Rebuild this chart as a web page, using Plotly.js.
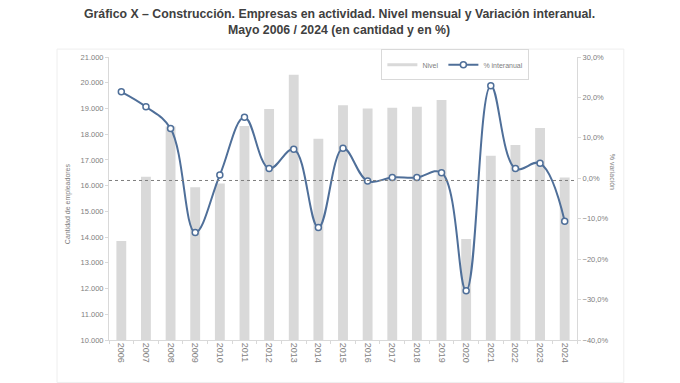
<!DOCTYPE html>
<html><head><meta charset="utf-8">
<script src="https://cdn.plot.ly/plotly-3.0.1.min.js"></script>
<style>html,body{margin:0;padding:0;background:#fff}#chart{width:680px;height:383px}</style>
</head><body><div id="chart"></div>
<script>
const years = ['2006','2007','2008','2009','2010','2011','2012','2013','2014','2015','2016','2017','2018','2019','2020','2021','2022','2023','2024'];
const nivel = [13850,16350,18300,15940,16080,18320,18980,20310,17820,19120,19000,19030,19070,19330,13930,17160,17580,18240,16320];
const interanual = [21.4,17.7,12.3,-13.4,0.8,15.1,2.4,7.2,-12.2,7.4,-0.7,0.2,0.2,1.4,-27.8,22.9,2.4,3.7,-10.6];
const referencia = 16200;
const titulo1 = 'Gráfico X – Construcción. Empresas en actividad. Nivel mensual y Variación interanual.';
const titulo2 = 'Mayo 2006 / 2024 (en cantidad y en %)';

const gray = '#808080';
const blue = '#4f6f99';
const traces = [
  {type:'bar', x:years, y:nivel, name:'Nivel', marker:{color:'#d9d9d9'}, showlegend:false, yaxis:'y', hoverinfo:'skip'},
  {type:'scatter', mode:'lines', x:[null], y:[null], name:'Nivel', line:{color:'#d9d9d9', width:3}, yaxis:'y'},
  {type:'scatter', mode:'lines+markers', x:years, y:interanual, name:'% interanual', yaxis:'y2',
   line:{color:blue, width:2, shape:'spline', smoothing:1.1},
   marker:{symbol:'circle', size:6, color:'#ffffff', line:{color:blue, width:1.5}}}
];
const layout = {
  width:680, height:383,
  margin:{l:109, r:103, t:57, b:43},
  paper_bgcolor:'#fff', plot_bgcolor:'#fff',
  separators:',.',
  font:{family:'"Liberation Sans", Arial, sans-serif', color:gray, size:7},
  bargap:0.6,
  showlegend:true,
  legend:{orientation:'h', x:0.582, xanchor:'left', y:1.027, yanchor:'top', bordercolor:'#d9d9d9', borderwidth:1,
    font:{size:7, color:gray}, bgcolor:'rgba(255,255,255,0.9)', itemwidth:30, tracegroupgap:0},
  xaxis:{type:'category', tickangle:90, ticks:'outside', tickson:'boundaries', ticklen:3, tickcolor:'#d9d9d9',
    showline:true, linecolor:'#d9d9d9', showgrid:false, tickfont:{size:9, color:gray}, range:[-0.5,18.5]},
  yaxis:{range:[10000,21000], dtick:1000, tickformat:',d', showgrid:false, showline:true, linecolor:'#d9d9d9',
    ticks:'outside', ticklen:3, tickcolor:'#d9d9d9', tickfont:{size:7.5, color:gray}, zeroline:false},
  yaxis2:{range:[-40,30], dtick:10, tickformat:'.1f', ticksuffix:'%', overlaying:'y', side:'right', showgrid:false,
    showline:true, linecolor:'#d9d9d9', ticks:'outside', ticklen:3, tickcolor:'#d9d9d9', tickfont:{size:7.5, color:gray}, zeroline:false},
  shapes:[
    {type:'line', xref:'paper', x0:0, x1:1, yref:'y', y0:referencia, y1:referencia, line:{color:'#7f7f7f', width:1, dash:'dot'}},
    {type:'rect', xref:'paper', yref:'paper', x0:-0.111, x1:1.1, y0:-0.15, y1:1.028, line:{color:'#eeeeee', width:1}, layer:'below'}
  ],
  annotations:[
    {text:'<b>'+titulo1+'</b>', xref:'paper', yref:'paper', x:0.5, y:1.152, xanchor:'center', yanchor:'middle', showarrow:false, font:{size:12.3, color:'#404040'}, xshift:-4},
    {text:'<b>'+titulo2+'</b>', xref:'paper', yref:'paper', x:0.5, y:1.095, xanchor:'center', yanchor:'middle', showarrow:false, font:{size:12.3, color:'#404040'}, xshift:-4},
    {text:'Cantidad de empleadores', xref:'paper', yref:'paper', x:-0.0876, y:0.48, xanchor:'center', yanchor:'middle', textangle:-90, showarrow:false, font:{size:7, color:gray}},
    {text:'% variación', xref:'paper', yref:'paper', x:1.075, y:0.594, xanchor:'center', yanchor:'middle', textangle:90, showarrow:false, font:{size:7, color:gray}}
  ]
};
Plotly.newPlot('chart', traces, layout, {displayModeBar:false, staticPlot:true});
</script></body></html>
